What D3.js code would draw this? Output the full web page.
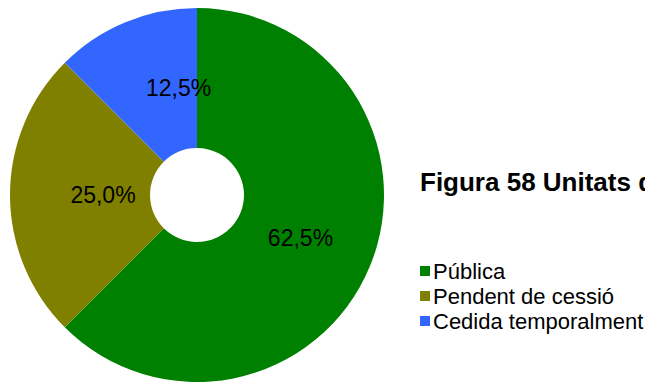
<!DOCTYPE html>
<html>
<head>
<meta charset="utf-8">
<script src="https://cdn.jsdelivr.net/npm/d3@7/dist/d3.min.js"></script>
<style>
  html, body { margin: 0; padding: 0; background: #fff; }
  svg { display: block; }
  text { font-family: "Liberation Sans", Arial, Helvetica, sans-serif; fill: #000; }
</style>
</head>
<body>
<svg id="chart" width="645" height="383"></svg>
<script>
// Unit status shares
const categories = ["Pública", "Pendent de cessió", "Cedida temporalment"];
const values = [62.5, 25.0, 12.5];
const colors = ["#008000", "#808000", "#3366ff"];
const title = "Figura 58 Unitats de manteniment";

const W = 645, H = 383;
const cx = 197, cy = 195;
const outerR = 187, innerR = 47;

const svg = d3.select("#chart");

const pie = d3.pie().sort(null).value(d => d.value);
const arcs = pie(categories.map((c, i) => ({ name: c, value: values[i], color: colors[i] })));

const arc = d3.arc().innerRadius(innerR).outerRadius(outerR);

const g = svg.append("g").attr("transform", `translate(${cx},${cy})`);

g.selectAll("path.slice")
  .data(arcs)
  .join("path")
  .attr("class", "slice")
  .attr("d", arc)
  .attr("fill", d => d.data.color);

// Label placement: radius along the slice bisector, plus a sideways nudge
const labelRadius = [112, 94, 116];
const labelNudgeX = [0, 0, 26];
const fmt = v => v.toFixed(1).replace(".", ",") + "%";

g.selectAll("text.lbl")
  .data(arcs)
  .join("text")
  .attr("class", "lbl")
  .attr("transform", (d, i) => {
    const c = d3.arc().innerRadius(labelRadius[i]).outerRadius(labelRadius[i]).centroid(d);
    return `translate(${c[0] + labelNudgeX[i]},${c[1]})`;
  })
  .attr("text-anchor", "middle")
  .attr("dy", "0.35em")
  .style("font-size", "23px")
  .text(d => fmt(d.data.value));

// Title (runs past the right edge)
svg.append("text")
  .attr("x", 420)
  .attr("y", 191)
  .style("font-size", "26px")
  .style("font-weight", "bold")
  .text(title);

// Legend
const legend = svg.append("g").attr("transform", "translate(420,271)");
const rowH = 25;
const item = legend.selectAll("g.item")
  .data(categories)
  .join("g")
  .attr("class", "item")
  .attr("transform", (d, i) => `translate(0,${i * rowH})`);

item.append("rect")
  .attr("x", 0).attr("y", -5)
  .attr("width", 10).attr("height", 10)
  .attr("fill", (d, i) => colors[i]);

item.append("text")
  .attr("x", 13)
  .attr("dy", "0.35em")
  .style("font-size", "22px")
  .text(d => d);
</script>
</body>
</html>
